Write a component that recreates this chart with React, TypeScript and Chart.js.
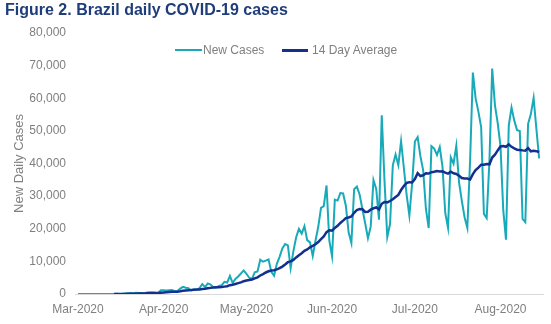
import React, { useEffect, useRef } from "react";
import { Chart, registerables } from "chart.js";

Chart.register(...registerables);

// Daily series: 1 Mar 2020 .. 15 Aug 2020
const START_DATE = "2020-03-01";

const newCases: number[] = [
  // March
  0, 0, 0, 1, 4, 5, 6, 6, 5, 9, 18, 25, 21, 23, 79, 34, 57, 137, 193, 283, 224, 418, 345, 310, 232, 482, 502, 487, 352, 323, 1138,
  // April
  1119, 1074, 1146, 1222, 852, 926, 1661, 2210, 1930, 1781, 1089, 1442, 1261, 1832, 3058, 2105, 3257, 2917, 2055, 1927, 2498, 2678, 3735, 3503, 5514, 3379, 4613, 5385, 6276, 7218,
  // May
  6209, 4970, 4588, 6633, 6935, 10503, 9888, 10222, 10611, 6760, 5632, 9258, 11385, 13944, 15305, 14919, 7938, 13140, 17408, 19951, 18508, 20803, 16508, 15813, 11687, 16324, 20599, 26417, 26928, 33274, 16409,
  // June
  11598, 28936, 28633, 30925, 30830, 27075, 18912, 15654, 32091, 32913, 30412, 25982, 21704, 17110, 20647, 34918, 32188, 22765, 54771, 34666, 17459, 21432, 39436, 42725, 39483, 46860, 38693, 30476, 24052, 33846,
  // July
  46712, 48105, 42223, 37923, 26051, 20229, 45305, 44571, 42619, 45048, 39023, 24831, 20286, 41857, 39924, 45403, 34177, 28532, 23529, 20257, 41008, 67860, 59961, 55891, 51147, 24578, 23284, 40816, 69074, 57837, 52383,
  // August
  45392, 25800, 16641, 51603, 57152, 53139, 50230, 49970, 23010, 22048, 52160, 55155, 60091, 50644, 41576,
];

const dayAverage14: (number | null)[] = [
  null, null, null, null, null, null, null, null, null, null, null, null, null,
  9, 14, 17, 21, 31, 44, 64, 80, 109, 133, 155, 170, 203, 237, 270, 290, 310, 388,
  458, 521, 582, 654, 685, 726, 823, 964, 1067, 1159, 1202, 1280, 1347, 1396, 1535, 1608, 1759, 1880, 1966, 2038, 2097, 2131, 2260, 2383, 2699, 2837, 3077, 3330, 3560, 3925,
  4136, 4283, 4464, 4800, 5117, 5676, 6115, 6595, 6959, 7201, 7274, 7550, 7915, 8396, 9045, 9756, 9995, 10460, 11208, 11883, 12499, 13254, 13676, 14322, 14755, 15260, 15918, 16809, 17639, 18950, 19555,
  19445, 20268, 20888, 21775, 22492, 23246, 23468, 23751, 24877, 25757, 26042, 25975, 25148, 25198, 25845, 26272, 26526, 25943, 27653, 28195, 28091, 28504, 29029, 29730, 30378, 31869, 33082, 34037, 34280, 34204,
  35241, 37051, 36155, 36388, 37001, 36915, 37335, 37466, 37690, 37561, 37585, 37181, 36912, 37485, 37000, 36807, 36232, 35561, 35381, 35383, 35076, 36740, 37978, 38753, 39619, 39601, 39815, 39741, 41823, 42711, 44011,
  45216, 45378, 45119, 45876, 45111, 44624, 44220, 44136, 44024, 43935, 44746, 43751, 43912, 43788, 43516,
];

const monthTickIndex = [0, 31, 61, 92, 122, 153];
const monthTickLabels = ["Mar-2020", "Apr-2020", "May-2020", "Jun-2020", "Jul-2020", "Aug-2020"];

const yTicks = [0, 10000, 20000, 30000, 40000, 50000, 60000, 70000, 80000];

const categories: string[] = newCases.map((_, i) => {
  const d = new Date(START_DATE + "T00:00:00Z");
  d.setUTCDate(d.getUTCDate() + i);
  return d.toISOString().slice(0, 10);
});

const TEAL = "#19AAB9";
const NAVY = "#13308E";
const GREY = "#7F7F7F";
const FONT = "'Liberation Sans', Arial, sans-serif";

export default function App() {
  const canvasRef = useRef<HTMLCanvasElement | null>(null);

  useEffect(() => {
    const canvas = canvasRef.current;
    if (!canvas) return;
    const chart = new Chart(canvas, {
      type: "line",
      data: {
        labels: categories,
        datasets: [
          {
            label: "New Cases",
            data: newCases.map((v, i) => ({ x: i, y: v })),
            borderColor: TEAL,
            backgroundColor: TEAL,
            borderWidth: 2,
            pointRadius: 0,
            tension: 0,
            order: 1,
          },
          {
            label: "14 Day Average",
            data: dayAverage14.map((v, i) => ({ x: i, y: v })),
            borderColor: NAVY,
            backgroundColor: NAVY,
            borderWidth: 2.5,
            pointRadius: 0,
            tension: 0,
            order: 0,
          },
        ],
      },
      options: {
        animation: false,
        responsive: false,
        maintainAspectRatio: false,
        events: [],
        layout: { padding: { left: 0, right: 8, top: 33, bottom: 0 } },
        plugins: {
          legend: { display: false },
          tooltip: { enabled: false },
          title: { display: false },
        },
        scales: {
          x: {
            type: "linear",
            min: -1.1,
            max: 168.4,
            grid: { display: false, drawTicks: false },
            border: { display: true, color: "#D9D9D9", width: 1 },
            afterBuildTicks: (scale: any) => {
              scale.ticks = monthTickIndex.map((v) => ({ value: v }));
            },
            afterFit: (scale: any) => {
              scale.height = 30;
            },
            ticks: {
              autoSkip: false,
              maxRotation: 0,
              minRotation: 0,
              padding: 8,
              color: GREY,
              font: { family: FONT, size: 12 },
              callback: (value: any) => {
                const k = monthTickIndex.indexOf(Number(value));
                return k >= 0 ? monthTickLabels[k] : "";
              },
            },
          },
          y: {
            type: "linear",
            min: 0,
            max: 80000,
            grid: { display: false, drawTicks: false },
            border: { display: false },
            afterBuildTicks: (scale: any) => {
              scale.ticks = yTicks.map((v) => ({ value: v }));
            },
            afterFit: (scale: any) => {
              scale.width = 75;
            },
            ticks: {
              padding: 9,
              color: GREY,
              font: { family: FONT, size: 12 },
              callback: (value: any) => Number(value).toLocaleString("en-US"),
            },
            title: {
              display: true,
              text: "New Daily Cases",
              color: GREY,
              font: { family: FONT, size: 13 },
              padding: { top: 12, bottom: 0 },
            },
          },
        },
      },
    });
    return () => chart.destroy();
  }, []);

  const legendText: React.CSSProperties = {
    position: "absolute",
    top: 43,
    height: 14,
    lineHeight: "14px",
    fontFamily: FONT,
    fontSize: 12,
    color: GREY,
    whiteSpace: "nowrap",
  };

  return (
    <div style={{ position: "fixed", left: 0, top: 0, width: 551, height: 324, background: "#fff" }}>
      <canvas ref={canvasRef} width={551} height={324} style={{ position: "absolute", left: 0, top: 0 }} />
      <div
        style={{
          position: "absolute",
          left: 5,
          top: 0,
          fontFamily: FONT,
          fontWeight: "bold",
          fontSize: 16,
          lineHeight: "20px",
          color: "#1F3D7A",
          whiteSpace: "nowrap",
        }}
      >
        Figure 2. Brazil daily COVID-19 cases
      </div>
      <div style={{ position: "absolute", left: 175, top: 49, width: 27, height: 2, background: TEAL }} />
      <div style={{ ...legendText, left: 203 }}>New Cases</div>
      <div style={{ position: "absolute", left: 282, top: 49, width: 26, height: 3, background: NAVY }} />
      <div style={{ ...legendText, left: 312 }}>14 Day Average</div>
    </div>
  );
}
